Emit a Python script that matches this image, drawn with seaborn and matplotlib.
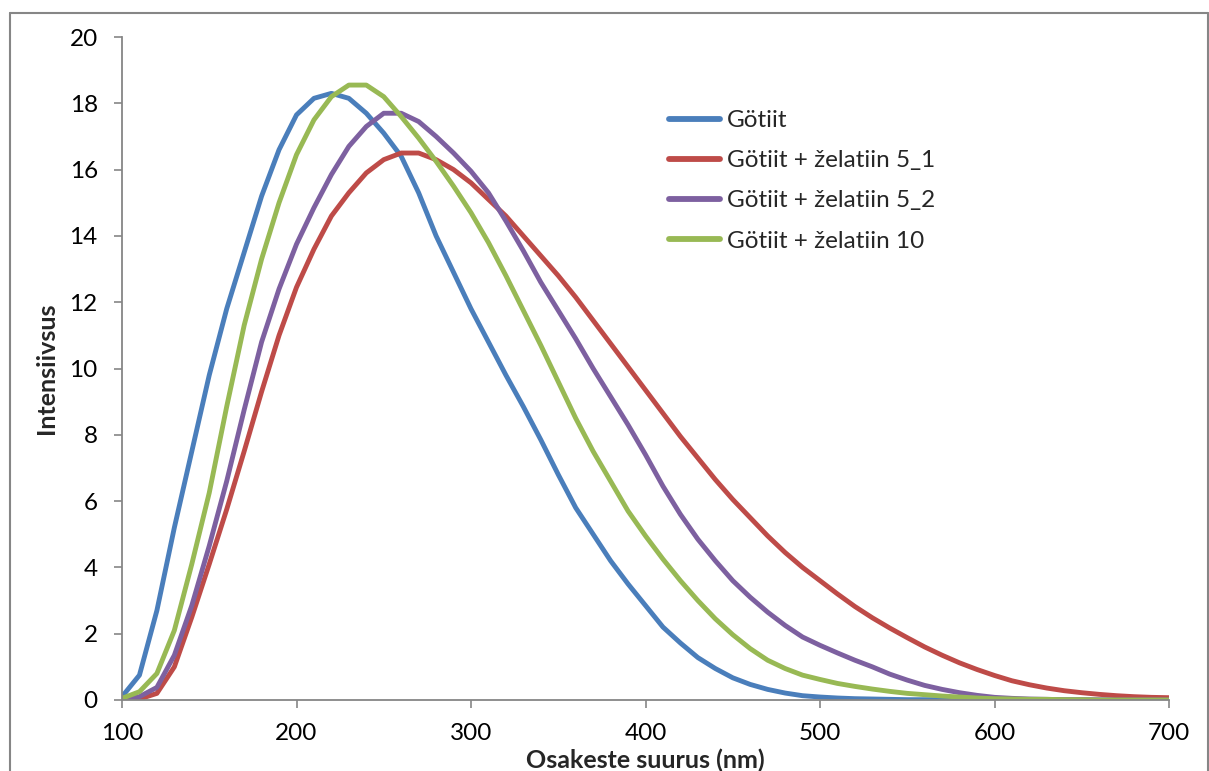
import matplotlib
matplotlib.use("Agg")
import matplotlib.pyplot as plt
import pandas as pd
import seaborn as sns
from matplotlib.lines import Line2D

# Particle size grid (nm) shared by all four distributions
size_nm = list(range(100, 701, 10))

goetiit = [0.10, 0.75, 2.7, 5.2, 7.5, 9.8, 11.8, 13.5, 15.2, 16.6,
           17.65, 18.15, 18.3, 18.15, 17.7, 17.1, 16.4, 15.3, 14.0, 12.9,
           11.8, 10.8, 9.8, 8.85, 7.85, 6.8, 5.8, 5.0, 4.2, 3.5,
           2.85, 2.2, 1.72, 1.28, 0.95, 0.67, 0.47, 0.32, 0.21, 0.13,
           0.09, 0.06, 0.04, 0.03, 0.02, 0.01, 0.01, 0.01, 0.0, 0.0,
           0.0, 0.0, 0.0, 0.0, 0.0, 0.0, 0.0, 0.0, 0.0, 0.0, 0.0]

zelatiin_5_1 = [0.0, 0.03, 0.2, 1.0, 2.5, 4.1, 5.75, 7.5, 9.3, 11.0,
                12.45, 13.6, 14.6, 15.3, 15.9, 16.3, 16.5, 16.5, 16.3, 16.0,
                15.6, 15.1, 14.6, 14.0, 13.4, 12.8, 12.15, 11.45, 10.75, 10.05,
                9.35, 8.65, 7.95, 7.3, 6.65, 6.05, 5.5, 4.95, 4.45, 4.0,
                3.6, 3.2, 2.82, 2.48, 2.17, 1.88, 1.6, 1.35, 1.12, 0.92,
                0.74, 0.58, 0.46, 0.36, 0.28, 0.22, 0.17, 0.13, 0.10, 0.08, 0.07]

zelatiin_5_2 = [0.02, 0.1, 0.38, 1.35, 2.85, 4.65, 6.6, 8.75, 10.8, 12.4,
                13.75, 14.85, 15.85, 16.7, 17.3, 17.7, 17.7, 17.45, 17.0, 16.5,
                15.95, 15.3, 14.45, 13.55, 12.6, 11.75, 10.9, 10.0, 9.15, 8.3,
                7.4, 6.45, 5.6, 4.85, 4.2, 3.6, 3.1, 2.65, 2.25, 1.9,
                1.65, 1.42, 1.2, 1.0, 0.78, 0.6, 0.44, 0.32, 0.22, 0.14,
                0.08, 0.05, 0.03, 0.02, 0.01, 0.01, 0.0, 0.0, 0.0, 0.0, 0.0]

zelatiin_10 = [0.05, 0.25, 0.8, 2.1, 4.1, 6.25, 8.85, 11.3, 13.3, 15.0,
               16.45, 17.5, 18.2, 18.55, 18.55, 18.2, 17.6, 16.95, 16.25, 15.5,
               14.7, 13.8, 12.8, 11.75, 10.7, 9.6, 8.5, 7.5, 6.6, 5.7,
               4.95, 4.25, 3.6, 3.0, 2.45, 1.97, 1.55, 1.2, 0.95, 0.75,
               0.62, 0.50, 0.41, 0.33, 0.26, 0.20, 0.16, 0.12, 0.09, 0.06,
               0.04, 0.03, 0.02, 0.02, 0.01, 0.01, 0.0, 0.0, 0.0, 0.0, 0.0]

series_names = ["Götiit", "Götiit + želatiin 5_1",
                "Götiit + želatiin 5_2", "Götiit + želatiin 10"]
series_values = [goetiit, zelatiin_5_1, zelatiin_5_2, zelatiin_10]
series_colors = ["#4A7EBB", "#BE4B48", "#7D60A0", "#98B954"]

x_ticks = [100, 200, 300, 400, 500, 600, 700]
y_ticks = [0, 2, 4, 6, 8, 10, 12, 14, 16, 18, 20]

frames = [pd.DataFrame({"size": size_nm, "intensity": vals, "sample": name})
          for name, vals in zip(series_names, series_values)]
df = pd.concat(frames, ignore_index=True)

sns.set_theme(style="white")
plt.rcParams["font.family"] = ["Lato", "DejaVu Sans"]

W, H = 1209, 771
FS = 17.5
fig = plt.figure(figsize=(W / 100, H / 100), dpi=100)
ax = fig.add_axes([122 / W, (H - 700) / H, (1169 - 122) / W, (700 - 37) / H])

sns.lineplot(data=df, x="size", y="intensity", hue="sample",
             hue_order=series_names, palette=dict(zip(series_names, series_colors)),
             linewidth=3.5, ax=ax, legend=False, solid_capstyle="round",
             solid_joinstyle="round")

ax.set_xlim(100, 700)
ax.set_ylim(0, 20)
ax.set_xticks(x_ticks)
ax.set_yticks(y_ticks)
ax.set_xticklabels([str(t) for t in x_ticks])
ax.set_yticklabels([str(t) for t in y_ticks])

grey = "#868686"
for side in ("top", "right"):
    ax.spines[side].set_visible(False)
for side in ("left", "bottom"):
    ax.spines[side].set_color(grey)
    ax.spines[side].set_linewidth(1.3)
ax.tick_params(axis="both", which="major", direction="out", length=5.5,
               width=1.2, color=grey, labelsize=FS, labelcolor="black", pad=11,
               left=True, bottom=True)
ax.tick_params(axis="y", pad=12)

ax.set_xlabel("Osakeste suurus (nm)", fontsize=18, fontweight="bold", va="center")
ax.set_ylabel("Intensiivsus", fontsize=18, fontweight="bold", va="center")
ax.xaxis.set_label_coords(0.5, (700 - 760) / (700 - 37))
ax.yaxis.set_label_coords((47 - 122) / (1169 - 122), 0.5)

handles = [Line2D([0], [0], color=c, linewidth=4.2, solid_capstyle="round")
           for c in series_colors]
ax.legend(handles, series_names, loc="upper left", frameon=False,
          bbox_to_anchor=(669 / W, 1 - 110 / H), bbox_transform=fig.transFigure,
          fontsize=FS, handlelength=2.1, handletextpad=0.3,
          labelspacing=0.79, borderpad=0, borderaxespad=0)

# Chart-area border
border_kw = dict(color=grey, linewidth=1.5, transform=fig.transFigure, clip_on=False)
fig.add_artist(Line2D([10 / W, 10 / W], [0, 1 - 13 / H], **border_kw))
fig.add_artist(Line2D([10 / W, 1208 / W], [1 - 13 / H, 1 - 13 / H], **border_kw))
fig.add_artist(Line2D([1208 / W, 1208 / W], [0, 1 - 13 / H], **border_kw))

fig.savefig("out.png", dpi=100)
